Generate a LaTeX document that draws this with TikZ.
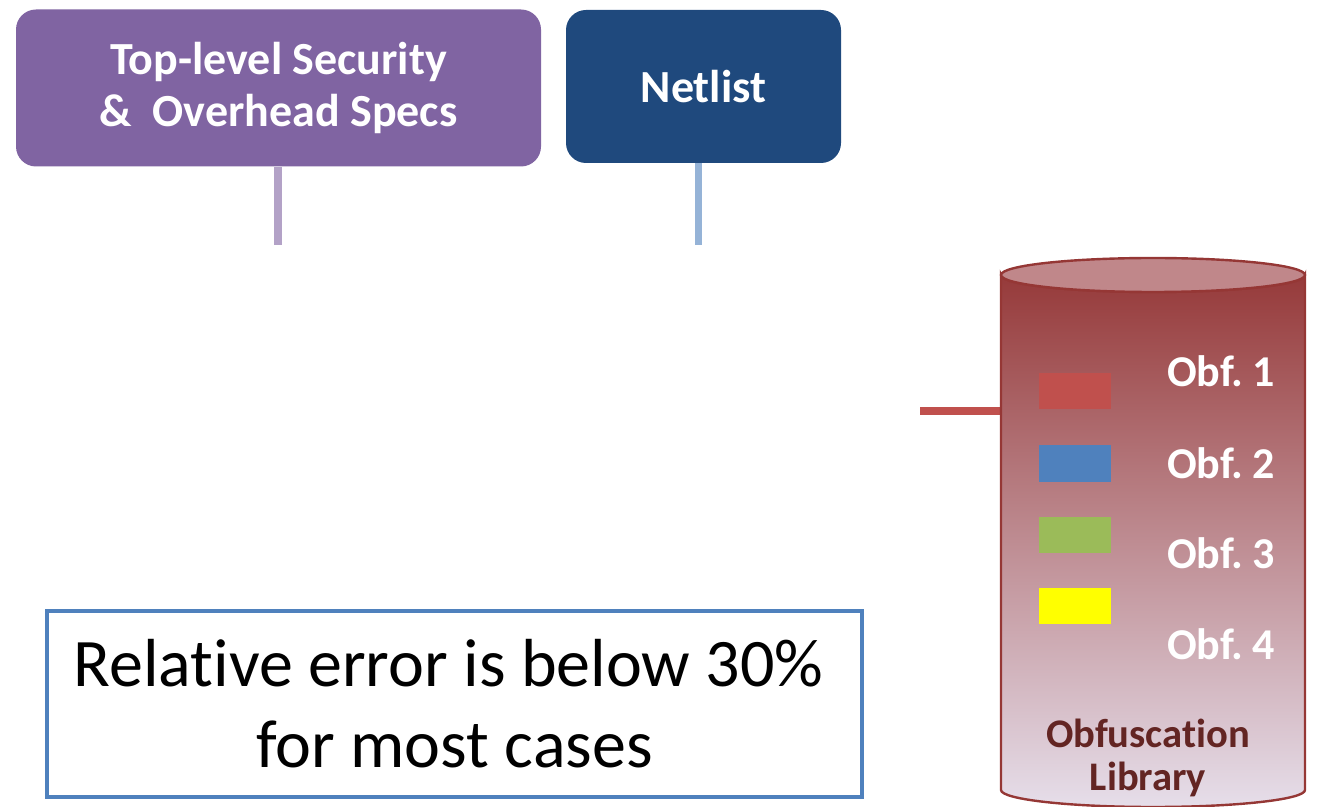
\documentclass[tikz,border=0pt]{standalone}
\usepackage{fontspec}
\setmainfont[RawFeature={-liga;-clig;-calt}]{Carlito}
\definecolor{specpurple}{HTML}{8064A2}
\definecolor{speclink}{HTML}{B3A2C7}
\definecolor{netnavy}{HTML}{1F497D}
\definecolor{netlink}{HTML}{95B3D7}
\definecolor{obfred}{HTML}{C0504D}
\definecolor{obfblue}{HTML}{4F81BD}
\definecolor{obfgreen}{HTML}{9BBB59}
\definecolor{obfyellow}{HTML}{FFFF00}
\definecolor{cylborder}{HTML}{953735}
\definecolor{cyltop}{HTML}{963A3A}
\definecolor{cylbot}{HTML}{E6DEEA}
\definecolor{cyltopfill}{HTML}{C0878A}
\definecolor{libtext}{HTML}{632523}
\begin{document}
\begin{tikzpicture}[x=0.5pt,y=-0.5pt,
  topbox/.style={rounded corners=10pt, text=white, align=center, inner sep=0pt,
    font=\bfseries\fontsize{23}{28}\selectfont},
  sq/.style={minimum width=36pt, minimum height=18pt, inner sep=0pt, draw=none},
  obflab/.style={text=white, font=\bfseries\fontsize{22}{25}\selectfont, inner sep=0pt},
  libfont/.style={text=libtext, font=\bfseries\fontsize{20.3}{22}\selectfont, inner sep=0pt},
  errbox/.style={draw=obfblue, line width=2pt, fill=white, align=center, inner sep=0pt,
    minimum width=407.5pt, minimum height=93pt, font=\fontsize{34}{40.5}\selectfont}]
\useasboundingbox (0,0) rectangle (1317,807);

% top boxes
\node[topbox, fill=specpurple, minimum width=262.5pt, minimum height=78.5pt] (spec) at (278.5,88)
  {\raisebox{-2pt}{Top-level Security}\\\&\ \ Overhead Specs};
\node[topbox, fill=netnavy, minimum width=137.5pt, minimum height=76.5pt] (net) at (703.5,86.5)
  {Netlist};

\coordinate (specend) at (278,245);
\coordinate (netend) at (698,245);
\draw[speclink, line width=4pt] (specend |- spec.south) -- (specend);
\draw[netlink, line width=3.5pt] (netend |- net.south) -- (netend);

% connector to library
\coordinate (redstart) at (920,411);
\coordinate (cylL) at (1001,411);
\draw[obfred, line width=4pt] (redstart) -- (cylL);

% cylinder
\path[shade, top color=cyltop, bottom color=cylbot, draw=cylborder, line width=1.2pt]
  (1001,275) -- (1001,790) arc[start angle=180, end angle=0, x radius=152, y radius=17]
  -- (1305,275) arc[start angle=0, end angle=180, x radius=152, y radius=17] -- cycle;
\draw[fill=cyltopfill, draw=cylborder, line width=1.2pt] (1153,275) ellipse[x radius=152, y radius=17];

% swatches
\node[sq, fill=obfred] (s1) at (1075,391) {};
\node[sq, fill=obfblue] (s2) at (1075,463.5) {};
\node[sq, fill=obfgreen] (s3) at (1075,535) {};
\node[sq, fill=obfyellow] (s4) at (1075,605.5) {};

\node[obflab, anchor=base east] (o1) at (1275,387) {Obf.\hspace{0.2em}1};
\node[obflab, anchor=base east] (o2) at (1275,479) {Obf.\hspace{0.2em}2};
\node[obflab, anchor=base east] (o3) at (1275,568) {Obf.\hspace{0.2em}3};
\node[obflab, anchor=base east] (o4) at (1275,659) {Obf.\hspace{0.2em}4};

\node[libfont, anchor=base] (libname) at (1148,747) {Obfuscation};
\node[libfont, anchor=base] (libname2) at (1148,790) {Library};

% error box
\node[errbox] (err) at (454.5,704) {Relative error is below 30\%\hspace*{6pt}\\for most cases};
\end{tikzpicture}
\end{document}
